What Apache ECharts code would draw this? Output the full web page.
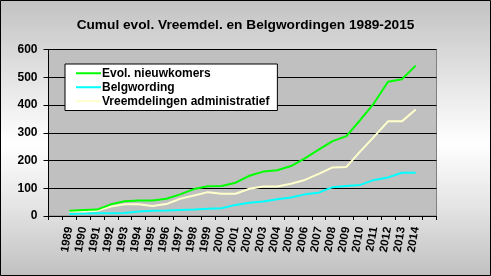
<!DOCTYPE html>
<html>
<head>
<meta charset="utf-8">
<script src="https://cdn.jsdelivr.net/npm/echarts@6/dist/echarts.min.js"></script>
<style>
html,body{margin:0;padding:0;}
#chart{width:491px;height:276px;background:linear-gradient(to bottom,#c2c2c2 0%,#e6e6e6 30%,#ffffff 52%,#e4e4e4 75%,#c0c0c0 100%);}
</style>
</head>
<body>
<div id="chart"></div>
<script>
var years = ['1989','1990','1991','1992','1993','1994','1995','1996','1997','1998','1999','2000','2001','2002','2003','2004','2005','2006','2007','2008','2009','2010','2011','2012','2013','2014'];
var nieuwkomers = [19,22,23,42,53,56,56,62,78,97,107,108,120,145,160,165,180,208,239,270,288,346,407,484,493,542];
var belgwording = [7,9,10,10,11,16,19,20,22,23,26,28,40,48,52,60,67,78,84,104,108,112,130,139,156,156];
var administratief = [16,16,19,34,42,42,36,43,62,74,86,80,80,98,106,106,116,130,152,175,177,233,286,341,341,384];
var yTicks = [0,100,200,300,400,500,600];

var categories = [''].concat(years).concat(['']);
function pad(a){ return [null].concat(a).concat([null]); }

var chart = echarts.init(document.getElementById('chart'), null, {renderer:'canvas'});
var font = 'Arial, "Liberation Sans", sans-serif';
chart.setOption({
  animation:false,
  title:{
    text:'Cumul evol. Vreemdel. en Belgwordingen 1989-2015',
    left:'center', top:13,
    textStyle:{fontFamily:font,fontSize:13.7,fontWeight:'bold',color:'#000'}
  },
  grid:{left:48.5,right:54.5,top:49.5,bottom:60,show:true,backgroundColor:'#c0c0c0',borderColor:'#808080',borderWidth:1,containLabel:false},
  legend:{
    orient:'vertical', left:65, top:64,
    backgroundColor:'#ffffff', borderColor:'#000', borderWidth:1, borderRadius:0,
    padding:[3,8,3,11], itemGap:1.5, itemWidth:25, itemHeight:2,
    icon:'rect',
    textStyle:{fontFamily:font,fontSize:12,lineHeight:12.5,fontWeight:'bold',color:'#000',padding:[0,0,0,-4]},
    data:['Evol. nieuwkomers','Belgwording','Vreemdelingen administratief']
  },
  xAxis:{
    type:'category', data:categories, boundaryGap:true,
    axisLine:{lineStyle:{color:'#000',width:1}},
    axisTick:{show:true,interval:0,length:4,lineStyle:{color:'#000'}},
    axisLabel:{interval:0,rotate:80,margin:11,fontFamily:font,fontSize:11.5,fontWeight:'bold',color:'#000'},
    splitLine:{show:false}
  },
  yAxis:{
    type:'value', min:yTicks[0], max:yTicks[yTicks.length-1], interval:100,
    axisLine:{show:true,lineStyle:{color:'#000',width:1}},
    axisTick:{show:true,length:5,lineStyle:{color:'#000'}},
    axisLabel:{margin:11,fontFamily:font,fontSize:12,fontWeight:'bold',color:'#000'},
    splitLine:{show:true,lineStyle:{color:'#000',width:1}}
  },
  series:[
    {name:'Evol. nieuwkomers',type:'line',data:pad(nieuwkomers),showSymbol:false,symbol:'none',color:'#00ff00',lineStyle:{width:2,color:'#00ff00'},z:3},
    {name:'Belgwording',type:'line',data:pad(belgwording),showSymbol:false,symbol:'none',color:'#00ffff',lineStyle:{width:2,color:'#00ffff'},z:2},
    {name:'Vreemdelingen administratief',type:'line',data:pad(administratief),showSymbol:false,symbol:'none',color:'#ffffcc',lineStyle:{width:2,color:'#ffffcc'},z:2}
  ],
  graphic:[{type:'rect',shape:{x:0.5,y:0.5,width:490,height:275},style:{fill:null,stroke:'#000',lineWidth:1},silent:true,z:100}]
});
</script>
</body>
</html>
